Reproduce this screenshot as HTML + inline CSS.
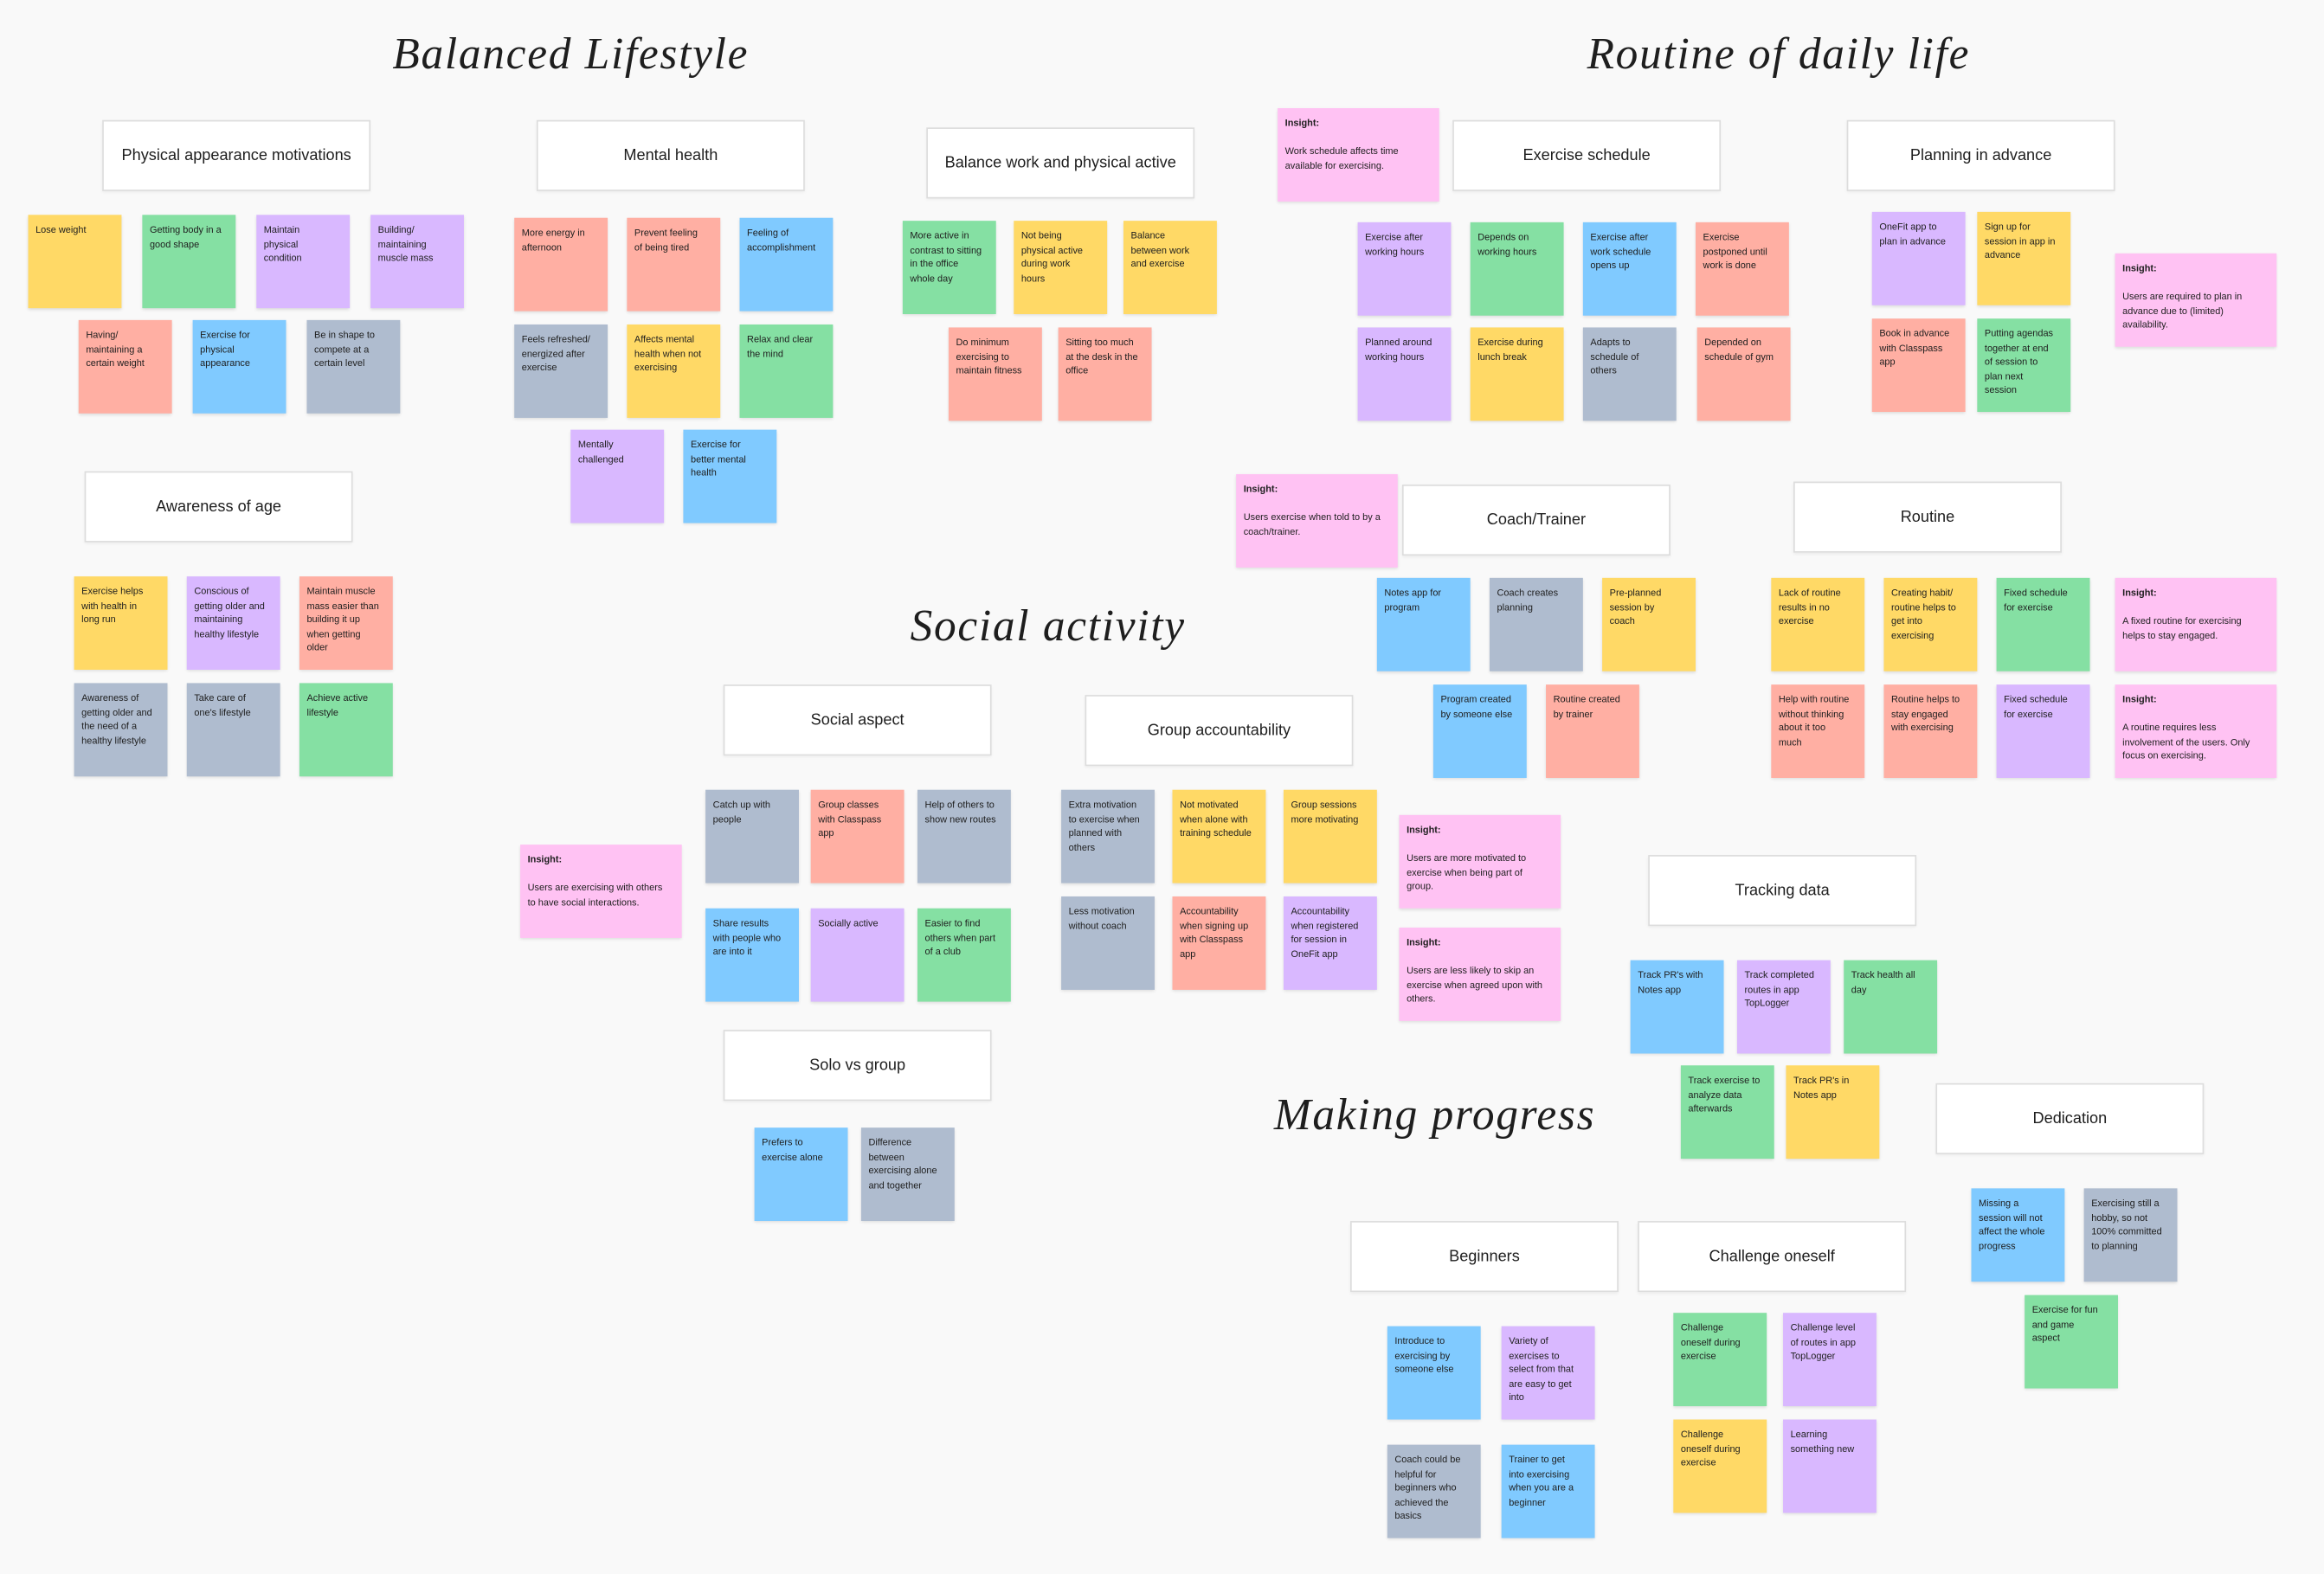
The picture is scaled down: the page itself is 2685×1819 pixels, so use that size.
<!DOCTYPE html>
<html><head><meta charset="utf-8"><style>
html,body{margin:0;padding:0;background:#f9f9f9;overflow:hidden}
#c{position:absolute;left:0;top:0;width:1568px;height:1062px;transform:scale(1.7124);transform-origin:0 0;font-family:"Liberation Sans",sans-serif;color:#1e1e1e}
.s{position:absolute;width:63px;height:63px;box-sizing:border-box;padding:6px 9px 5px 5px;font-size:6.4px;line-height:9.6px;box-shadow:0 1px 2px rgba(0,0,0,.12)}
.i{width:109px;background:#FFC2F3;padding-right:10px}
.i b{display:block;margin-bottom:9.6px}
.Y{background:#FFD966}.G{background:#85E0A3}.P{background:#D9B8FF}.S{background:#FFAFA3}.B{background:#80CAFF}.R{background:#AFBCCF}
.h{position:absolute;width:181px;height:48px;background:#fff;border:1px solid #ddd;box-sizing:border-box;display:flex;align-items:center;justify-content:center;font-size:10.6px;box-shadow:0 1px 2px rgba(0,0,0,.06)}
.t{position:absolute;font-family:"Liberation Serif",serif;font-style:italic;font-size:30px;white-space:nowrap;transform:translateX(-50%);letter-spacing:1px}
</style></head><body><div id="c">
<div class="t" style="left:385px;top:20px">Balanced Lifestyle</div>
<div class="t" style="left:1200px;top:20px">Routine of daily life</div>
<div class="t" style="left:707px;top:406px">Social activity</div>
<div class="t" style="left:968px;top:736px">Making progress</div>

<div class="h" style="left:69px;top:81px">Physical appearance motivations</div>
<div class="h" style="left:362px;top:81px">Mental health</div>
<div class="h" style="left:625px;top:86px">Balance work and physical active</div>
<div class="h" style="left:980px;top:81px">Exercise schedule</div>
<div class="h" style="left:1246px;top:81px">Planning in advance</div>
<div class="h" style="left:57px;top:318px">Awareness of age</div>
<div class="h" style="left:946px;top:327px">Coach/Trainer</div>
<div class="h" style="left:1210px;top:325px">Routine</div>
<div class="h" style="left:488px;top:462px">Social aspect</div>
<div class="h" style="left:732px;top:469px">Group accountability</div>
<div class="h" style="left:1112px;top:577px">Tracking data</div>
<div class="h" style="left:488px;top:695px">Solo vs group</div>
<div class="h" style="left:1306px;top:731px">Dedication</div>
<div class="h" style="left:911px;top:824px">Beginners</div>
<div class="h" style="left:1105px;top:824px">Challenge oneself</div>

<div class="s Y" style="left:19px;top:145px">Lose weight</div>
<div class="s G" style="left:96px;top:145px">Getting body in a good shape</div>
<div class="s P" style="left:173px;top:145px">Maintain physical condition</div>
<div class="s P" style="left:250px;top:145px">Building/ maintaining muscle mass</div>
<div class="s S" style="left:53px;top:216px">Having/ maintaining a certain weight</div>
<div class="s B" style="left:130px;top:216px">Exercise for physical appearance</div>
<div class="s R" style="left:207px;top:216px">Be in shape to compete at a certain level</div>

<div class="s S" style="left:347px;top:147px">More energy in afternoon</div>
<div class="s S" style="left:423px;top:147px">Prevent feeling of being tired</div>
<div class="s B" style="left:499px;top:147px">Feeling of accomplishment</div>
<div class="s R" style="left:347px;top:219px">Feels refreshed/ energized after exercise</div>
<div class="s Y" style="left:423px;top:219px">Affects mental health when not exercising</div>
<div class="s G" style="left:499px;top:219px">Relax and clear the mind</div>
<div class="s P" style="left:385px;top:290px">Mentally challenged</div>
<div class="s B" style="left:461px;top:290px">Exercise for better mental health</div>

<div class="s G" style="left:609px;top:149px">More active in contrast to sitting in the office whole day</div>
<div class="s Y" style="left:684px;top:149px">Not being physical active during work hours</div>
<div class="s Y" style="left:758px;top:149px">Balance between work and exercise</div>
<div class="s S" style="left:640px;top:221px">Do minimum exercising to maintain fitness</div>
<div class="s S" style="left:714px;top:221px">Sitting too much at the desk in the office</div>

<div class="s i" style="left:862px;top:73px"><b>Insight:</b>Work schedule affects time available for exercising.</div>
<div class="s P" style="left:916px;top:150px">Exercise after working hours</div>
<div class="s G" style="left:992px;top:150px">Depends on working hours</div>
<div class="s B" style="left:1068px;top:150px">Exercise after work schedule opens up</div>
<div class="s S" style="left:1144px;top:150px">Exercise postponed until work is done</div>
<div class="s P" style="left:916px;top:221px">Planned around working hours</div>
<div class="s Y" style="left:992px;top:221px">Exercise during lunch break</div>
<div class="s R" style="left:1068px;top:221px">Adapts to schedule of others</div>
<div class="s S" style="left:1145px;top:221px">Depended on schedule of gym</div>

<div class="s P" style="left:1263px;top:143px">OneFit app to plan in advance</div>
<div class="s Y" style="left:1334px;top:143px">Sign up for session in app in advance</div>
<div class="s S" style="left:1263px;top:215px">Book in advance with Classpass app</div>
<div class="s G" style="left:1334px;top:215px">Putting agendas together at end of session to plan next session</div>
<div class="s i" style="left:1427px;top:171px"><b>Insight:</b>Users are required to plan in advance due to (limited) availability.</div>

<div class="s Y" style="left:50px;top:389px">Exercise helps with health in long run</div>
<div class="s P" style="left:126px;top:389px">Conscious of getting older and maintaining healthy lifestyle</div>
<div class="s S" style="left:202px;top:389px">Maintain muscle mass easier than building it up when getting older</div>
<div class="s R" style="left:50px;top:461px">Awareness of getting older and the need of a healthy lifestyle</div>
<div class="s R" style="left:126px;top:461px">Take care of one's lifestyle</div>
<div class="s G" style="left:202px;top:461px">Achieve active lifestyle</div>

<div class="s i" style="left:834px;top:320px"><b>Insight:</b>Users exercise when told to by a coach/trainer.</div>
<div class="s B" style="left:929px;top:390px">Notes app for program</div>
<div class="s R" style="left:1005px;top:390px">Coach creates planning</div>
<div class="s Y" style="left:1081px;top:390px">Pre-planned session by coach</div>
<div class="s B" style="left:967px;top:462px">Program created by someone else</div>
<div class="s S" style="left:1043px;top:462px">Routine created by trainer</div>

<div class="s Y" style="left:1195px;top:390px">Lack of routine results in no exercise</div>
<div class="s Y" style="left:1271px;top:390px">Creating habit/ routine helps to get into exercising</div>
<div class="s G" style="left:1347px;top:390px">Fixed schedule for exercise</div>
<div class="s i" style="left:1427px;top:390px"><b>Insight:</b>A fixed routine for exercising helps to stay engaged.</div>
<div class="s S" style="left:1195px;top:462px">Help with routine without thinking about it too much</div>
<div class="s S" style="left:1271px;top:462px">Routine helps to stay engaged with exercising</div>
<div class="s P" style="left:1347px;top:462px">Fixed schedule for exercise</div>
<div class="s i" style="left:1427px;top:462px"><b>Insight:</b>A routine requires less involvement of the users. Only focus on exercising.</div>

<div class="s i" style="left:351px;top:570px"><b>Insight:</b>Users are exercising with others to have social interactions.</div>
<div class="s R" style="left:476px;top:533px">Catch up with people</div>
<div class="s S" style="left:547px;top:533px">Group classes with Classpass app</div>
<div class="s R" style="left:619px;top:533px">Help of others to show new routes</div>
<div class="s B" style="left:476px;top:613px">Share results with people who are into it</div>
<div class="s P" style="left:547px;top:613px">Socially active</div>
<div class="s G" style="left:619px;top:613px">Easier to find others when part of a club</div>

<div class="s B" style="left:509px;top:761px">Prefers to exercise alone</div>
<div class="s R" style="left:581px;top:761px">Difference between exercising alone and together</div>

<div class="s R" style="left:716px;top:533px">Extra motivation to exercise when planned with others</div>
<div class="s Y" style="left:791px;top:533px">Not motivated when alone with training schedule</div>
<div class="s Y" style="left:866px;top:533px">Group sessions more motivating</div>
<div class="s R" style="left:716px;top:605px">Less motivation without coach</div>
<div class="s S" style="left:791px;top:605px">Accountability when signing up with Classpass app</div>
<div class="s P" style="left:866px;top:605px">Accountability when registered for session in OneFit app</div>
<div class="s i" style="left:944px;top:550px"><b>Insight:</b>Users are more motivated to exercise when being part of group.</div>
<div class="s i" style="left:944px;top:626px"><b>Insight:</b>Users are less likely to skip an exercise when agreed upon with others.</div>

<div class="s B" style="left:1100px;top:648px">Track PR's with Notes app</div>
<div class="s P" style="left:1172px;top:648px">Track completed routes in app TopLogger</div>
<div class="s G" style="left:1244px;top:648px">Track health all day</div>
<div class="s G" style="left:1134px;top:719px">Track exercise to analyze data afterwards</div>
<div class="s Y" style="left:1205px;top:719px">Track PR's in Notes app</div>

<div class="s B" style="left:1330px;top:802px">Missing a session will not affect the whole progress</div>
<div class="s R" style="left:1406px;top:802px">Exercising still a hobby, so not 100% committed to planning</div>
<div class="s G" style="left:1366px;top:874px">Exercise for fun and game aspect</div>

<div class="s B" style="left:936px;top:895px">Introduce to exercising by someone else</div>
<div class="s P" style="left:1013px;top:895px">Variety of exercises to select from that are easy to get into</div>
<div class="s R" style="left:936px;top:975px">Coach could be helpful for beginners who achieved the basics</div>
<div class="s B" style="left:1013px;top:975px">Trainer to get into exercising when you are a beginner</div>

<div class="s G" style="left:1129px;top:886px">Challenge oneself during exercise</div>
<div class="s P" style="left:1203px;top:886px">Challenge level of routes in app TopLogger</div>
<div class="s Y" style="left:1129px;top:958px">Challenge oneself during exercise</div>
<div class="s P" style="left:1203px;top:958px">Learning something new</div>
</div></body></html>
